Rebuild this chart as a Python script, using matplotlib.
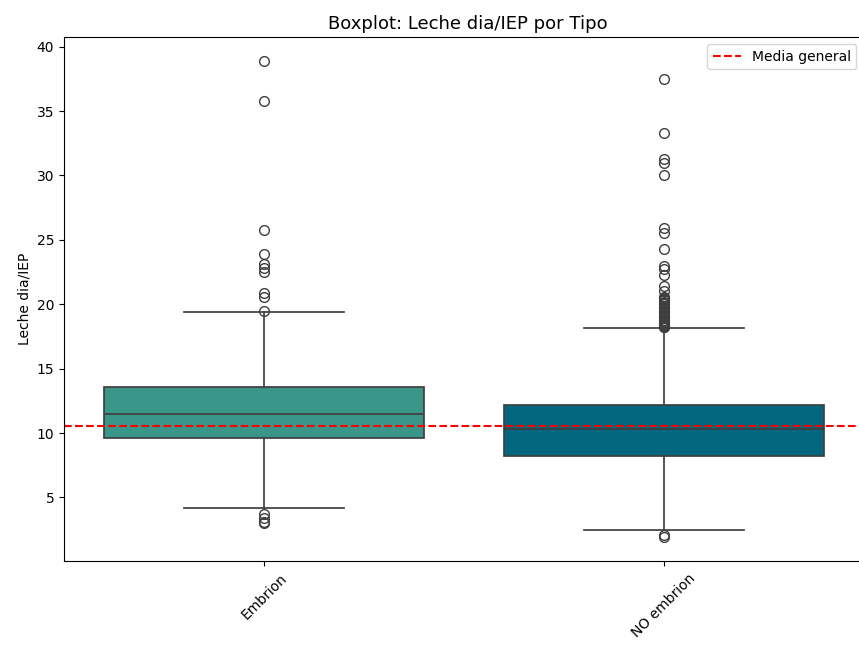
import matplotlib.pyplot as plt

# Datos (estadisticos del boxplot por Tipo)
tipos = ['Embrion', 'NO embrion']
mediana = [11.45, 10.3]
q1 = [9.65, 8.25]
q3 = [13.55, 12.2]
bigote_inf = [4.15, 2.5]
bigote_sup = [19.4, 18.15]
atipicos_embrion = [38.9, 35.8, 25.8, 23.9, 23.1, 22.8, 22.5, 20.9, 20.6, 19.5,
                    3.7, 3.4, 3.1, 3.0]
atipicos_no_embrion = [37.5, 33.3, 31.3, 31.0, 30.0, 25.9, 25.5, 24.3, 23.0, 22.7,
                       22.3, 21.4, 21.0, 20.6, 20.5, 20.4, 20.3, 20.2, 20.1, 20.0,
                       19.9, 19.8, 19.7, 19.6, 19.5, 19.4, 19.3, 19.2, 19.1, 19.0,
                       18.9, 18.8, 18.7, 18.6, 18.5, 18.45, 18.4, 18.35, 18.3,
                       18.25, 18.2, 2.05, 1.9]
media_general = 10.58
colores = ['#3b968a', '#02667f']

stats = []
for i, tipo in enumerate(tipos):
    stats.append({
        'label': tipo,
        'med': mediana[i],
        'q1': q1[i],
        'q3': q3[i],
        'whislo': bigote_inf[i],
        'whishi': bigote_sup[i],
        'fliers': [atipicos_embrion, atipicos_no_embrion][i],
    })

fig = plt.figure(figsize=(8.59, 6.45), dpi=100)
ax = fig.add_axes([0.0745, 0.130, 0.94, 0.8126])

linea = dict(color='#3f3f3f', linewidth=1.25)
bp = ax.bxp(stats, positions=[0, 1], widths=0.8, patch_artist=True,
            boxprops=dict(edgecolor='#3f3f3f', linewidth=1.25),
            medianprops=linea, whiskerprops=linea, capprops=linea,
            capwidths=0.4,
            flierprops=dict(marker='o', markersize=7, markerfacecolor='none',
                            markeredgecolor='#3f3f3f', markeredgewidth=1.0))
for caja, c in zip(bp['boxes'], colores):
    caja.set_facecolor(c)

ax.axhline(media_general, color='red', linestyle='--', linewidth=1.5, label='Media general')
ax.set_xlim(-0.5, 1.519)
ax.set_ylim(0.05, 40.75)
ax.set_xticks([0, 1])
ax.set_xticklabels(tipos, rotation=45)
ax.set_yticks([5, 10, 15, 20, 25, 30, 35, 40])
ax.set_title('Boxplot: Leche dia/IEP por Tipo', fontsize=13)
ax.set_ylabel('Leche dia/IEP')
ax.set_xlabel('')
ax.legend(loc='upper right', bbox_to_anchor=(0.99, 1.0))

fig.savefig('out.png', dpi=100)
